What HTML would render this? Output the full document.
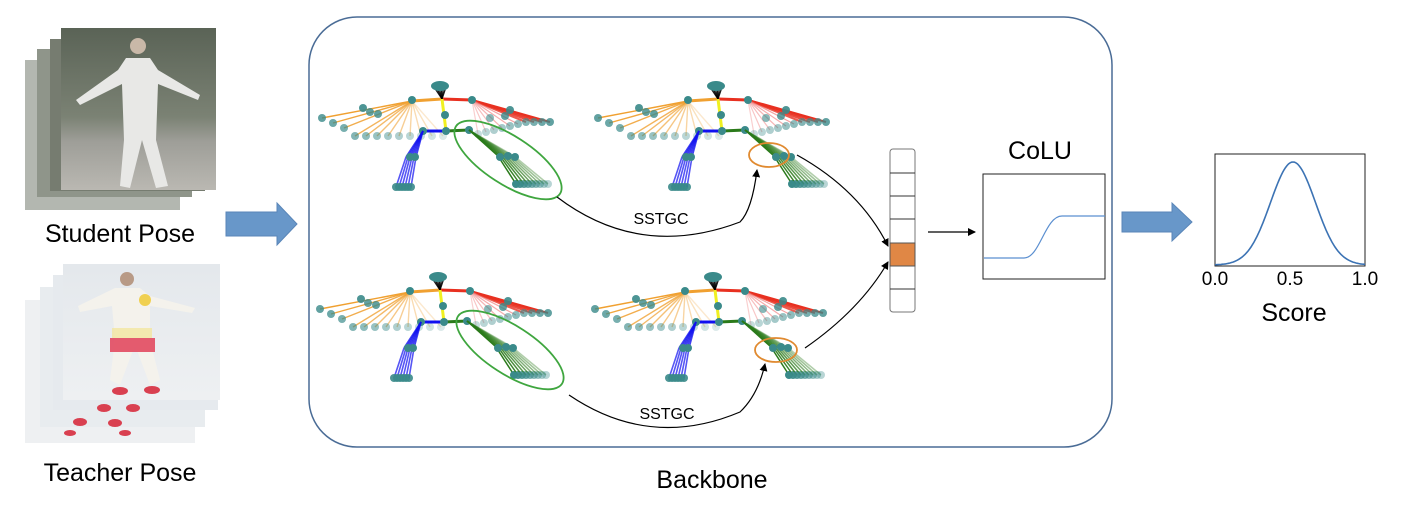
<!DOCTYPE html>
<html><head><meta charset="utf-8"><style>
html,body{margin:0;padding:0;background:#fff;}
svg{display:block;font-family:"Liberation Sans",sans-serif;}
</style></head><body>
<svg id="s" width="1416" height="520" viewBox="0 0 1416 520" xmlns="http://www.w3.org/2000/svg">
<defs>
<marker id="ah" markerWidth="8" markerHeight="8" refX="7" refY="4" orient="auto" markerUnits="userSpaceOnUse"><path d="M0,0 L8,4 L0,8 z" fill="#000"/></marker>
<linearGradient id="sg" x1="0" y1="0" x2="0" y2="1"><stop offset="0" stop-color="#5a6356"/><stop offset="0.55" stop-color="#7b8274"/><stop offset="0.7" stop-color="#9e9e98"/><stop offset="1" stop-color="#bab8b2"/></linearGradient>
<linearGradient id="tg" x1="0" y1="0" x2="0" y2="1"><stop offset="0" stop-color="#e4e8ec"/><stop offset="1" stop-color="#eef0f2"/></linearGradient>
</defs>
<rect x="25" y="60" width="155" height="150" fill="#b3b7b0"/>
<rect x="37" y="49" width="155" height="148" fill="#8f958a"/>
<rect x="50" y="39" width="155" height="152" fill="#767c70"/>
<rect x="61" y="28" width="155" height="162" fill="url(#sg)"/>
<g fill="#e8e8e6">
<circle cx="138" cy="46" r="8" fill="#c9b8a8"/>
<path d="M126,58 L150,58 L158,70 L200,95 L198,100 L158,84 L156,140 L168,186 L156,188 L142,140 L130,188 L120,186 L124,140 L122,84 L80,105 L76,100 L118,70 Z"/>
</g>
<rect x="25" y="300" width="170" height="143" fill="#eef0f2"/>
<rect x="40" y="287" width="165" height="140" fill="#e8ecef"/>
<rect x="53" y="275" width="165" height="135" fill="#e6eaee"/>
<rect x="63" y="264" width="157" height="136" fill="url(#tg)"/>
<circle cx="127" cy="279" r="7" fill="#b89a86"/>
<path d="M115,288 L140,288 L150,296 L195,308 L192,313 L150,306 L150,340 L160,380 L150,385 L135,345 L120,385 L110,380 L115,340 L112,306 L80,312 L78,306 Z" fill="#f4f2ec"/>
<rect x="110" y="338" width="45" height="14" fill="#e24a60" opacity="0.9"/>
<rect x="112" y="328" width="40" height="10" fill="#f2e6a0" opacity="0.8"/>
<circle cx="145" cy="300" r="6" fill="#f0d050"/>
<g fill="#d94050"><ellipse cx="120" cy="391" rx="8" ry="4"/><ellipse cx="152" cy="390" rx="8" ry="4"/><ellipse cx="104" cy="408" rx="7" ry="4"/><ellipse cx="133" cy="408" rx="7" ry="4"/><ellipse cx="80" cy="422" rx="7" ry="4"/><ellipse cx="115" cy="423" rx="7" ry="4"/><ellipse cx="70" cy="433" rx="6" ry="3"/><ellipse cx="125" cy="433" rx="6" ry="3"/></g>
<text x="120" y="242" font-size="25" text-anchor="middle">Student Pose</text>
<text x="120" y="481" font-size="25" text-anchor="middle">Teacher Pose</text>
<path d="M226,212 L277,212 L277,203 L297,224 L277,245 L277,236 L226,236 Z" fill="#6897c9" stroke="#5a86b8" stroke-width="1"/>
<path d="M1122,212 L1172,212 L1172,203 L1192,222 L1172,241 L1172,232 L1122,232 Z" fill="#6897c9" stroke="#5a86b8" stroke-width="1"/>
<rect x="309" y="17" width="803" height="430" rx="48" fill="none" stroke="#4a6c96" stroke-width="1.5"/>
<text x="712" y="488" font-size="25" text-anchor="middle">Backbone</text>
<g id="sk"></g>
<ellipse cx="508" cy="160" rx="62" ry="24" transform="rotate(33 508 160)" fill="none" stroke="#3fa63f" stroke-width="1.8"/>
<ellipse cx="510" cy="350" rx="62" ry="24" transform="rotate(33 510 350)" fill="none" stroke="#3fa63f" stroke-width="1.8"/>
<ellipse cx="769" cy="155" rx="20" ry="12" fill="none" stroke="#e08a30" stroke-width="1.8"/>
<ellipse cx="776" cy="350" rx="21" ry="12" fill="none" stroke="#e08a30" stroke-width="1.8"/>
<path d="M557,197 Q640,260 740,222 Q752,210 757,170" fill="none" stroke="#000" stroke-width="1.2" marker-end="url(#ah)"/>
<text x="661" y="224" font-size="16" text-anchor="middle">SSTGC</text>
<path d="M569,395 Q650,450 740,412 Q758,395 765,364" fill="none" stroke="#000" stroke-width="1.2" marker-end="url(#ah)"/>
<text x="667" y="419" font-size="16" text-anchor="middle">SSTGC</text>
<path d="M797,155 Q860,190 888,246" fill="none" stroke="#000" stroke-width="1.2" marker-end="url(#ah)"/>
<path d="M805,348 Q860,310 888,262" fill="none" stroke="#000" stroke-width="1.2" marker-end="url(#ah)"/>
<rect x="890" y="149" width="25" height="163" rx="3" fill="#fff" stroke="#777" stroke-width="1"/>
<rect x="890" y="243" width="25" height="23" fill="#e08745" stroke="#555" stroke-width="1"/>
<g stroke="#333" stroke-width="1"><line x1="890" y1="173" x2="915" y2="173"/><line x1="890" y1="196" x2="915" y2="196"/><line x1="890" y1="219" x2="915" y2="219"/><line x1="890" y1="289" x2="915" y2="289"/></g>
<line x1="928" y1="232" x2="975" y2="232" stroke="#000" stroke-width="1.2" marker-end="url(#ah)"/>
<text x="1040" y="159" font-size="25" text-anchor="middle">CoLU</text>
<rect x="983" y="174" width="122" height="105" fill="none" stroke="#222" stroke-width="1"/>
<path d="M984,258 L1024,258 C1040,258 1045,216 1062,216 L1105,216" fill="none" stroke="#5b8fd0" stroke-width="1.2"/>
<rect x="1215" y="154" width="150" height="112" fill="none" stroke="#222" stroke-width="1"/>
<path id="gauss" fill="none" stroke="#3c73b4" stroke-width="1.6"/>
<text x="1215" y="285" font-size="19" text-anchor="middle">0.0</text>
<text x="1290" y="285" font-size="19" text-anchor="middle">0.5</text>
<text x="1365" y="285" font-size="19" text-anchor="middle">1.0</text>
<text x="1294" y="321" font-size="25" text-anchor="middle">Score</text>
</svg>
<script>
(function(){
var NS="http://www.w3.org/2000/svg",g=document.getElementById('sk');
function el(t,a){var e=document.createElementNS(NS,t);for(var k in a)e.setAttribute(k,a[k]);g.appendChild(e);return e;}
function ln(x1,y1,x2,y2,c,w,o){el('line',{x1:x1,y1:y1,x2:x2,y2:y2,stroke:c,'stroke-width':w,opacity:o});}
function dot(x,y,o){el('circle',{cx:x,cy:y,r:4,fill:'#3a8a8a',opacity:o});}
function skel(dx,dy){
 for(var i=0;i<12;i++){var o=1-i*0.07;var hx=322+i*11+dx,hy=118+Math.min(i,3)*5+(i>2?3:0)+dy;
  ln(412+dx,101+dy,hx,hy,'#f0a030',1.4,o);dot(hx,hy,o*0.8);}
 dot(363+dx,108+dy,0.9);dot(370+dx,112+dy,0.8);dot(378+dx,114+dy,0.8);
 ln(412+dx,101+dy,442+dx,99+dy,'#f0a030',3,1);dot(412+dx,100+dy,1);
 for(var i=0;i<10;i++){var o=1-i*0.07;var hx=550-i*8+dx,hy=122+(i>3?(i-3)*2:0)+dy;
  ln(472+dx,100+dy,hx,hy,i<4?'#e83020':'#f08080',i<4?2.2:1.2,o);dot(hx,hy,o*0.8);}
 dot(510+dx,110+dy,0.9);dot(505+dx,116+dy,0.8);dot(490+dx,118+dy,0.6);
 ln(442+dx,99+dy,472+dx,100+dy,'#e83020',3,1);dot(472+dx,100+dy,1);
 for(var i=0;i<6;i++)ln(442+dx,99+dy,432+i*3+dx,84+dy,'#000',1.3,0.9);
 el('ellipse',{cx:440+dx,cy:86+dy,rx:9,ry:5,fill:'#3a8a8a'});
 ln(442+dx,99+dy,446+dx,131+dy,'#f0f020',3,1);dot(445+dx,115+dy,1);
 ln(423+dx,131+dy,446+dx,131+dy,'#1010f0',3,1);ln(446+dx,131+dy,469+dx,130+dy,'#2a7a1a',3,1);
 dot(423+dx,131+dy,1);dot(446+dx,131+dy,1);dot(469+dx,130+dy,1);
 for(var i=0;i<6;i++){ln(423+dx,131+dy,406+i*2+dx,157+dy,'#1010f0',1.6,0.8);ln(406+i*2+dx,157+dy,396+i*3+dx,187+dy,'#1010f0',1.6,0.7);dot(396+i*3+dx,187+dy,0.9);}
 dot(410+dx,157+dy,1);dot(415+dx,157+dy,1);
 for(var i=0;i<9;i++){var o=1-i*0.08;ln(469+dx,130+dy,498+i*2+dx,156+dy,'#2a7a1a',1.5,o);ln(498+i*2+dx,156+dy,516+i*4+dx,184+dy,'#2a7a1a',1.5,o);dot(516+i*4+dx,184+dy,o);}
 dot(500+dx,157+dy,1);dot(508+dx,156+dy,1);dot(515+dx,157+dy,1);
}
skel(0,0);skel(276,0);skel(-2,191);skel(273,191);
var d='';for(var i=0;i<=100;i++){var t=i/100;var y=265-103*Math.exp(-Math.pow((t-0.52)/0.15,2)/2);d+=(i?'L':'M')+(1215+t*150).toFixed(1)+','+y.toFixed(1);}
document.getElementById('gauss').setAttribute('d',d);
})();
</script>
</body></html>
